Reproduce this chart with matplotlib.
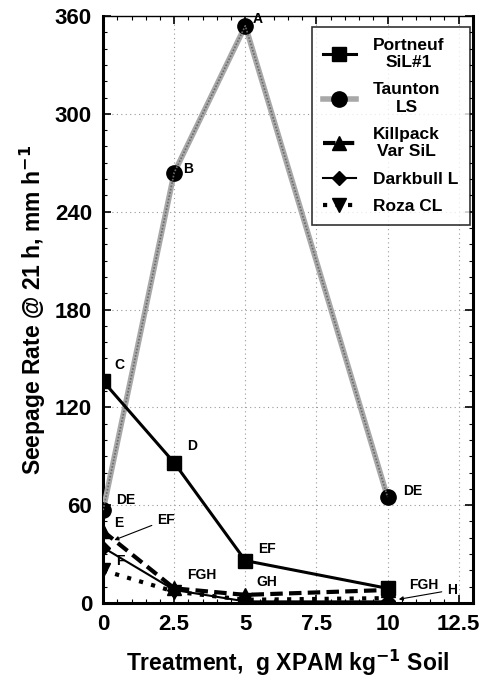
import matplotlib
matplotlib.use("Agg")
import matplotlib.pyplot as plt
from matplotlib.ticker import MultipleLocator

plt.rcParams['font.family'] = ['Liberation Sans', 'DejaVu Sans']
plt.rcParams['font.weight'] = 'bold'
plt.rcParams['mathtext.default'] = 'bf'

# Data
treatment = [0, 2.5, 5, 10]
portneuf = [136, 86, 26, 9]
taunton = [57, 264, 354, 65]
killpack = [44, 9, 5, 8]
darkbull = [34, 8, 1, 1]
roza = [20, 7, 2, 3]

# Significance letters: (text, x, y)
letters = [
    ('A', 5.25, 358), ('B', 2.8, 266), ('C', 0.4, 146), ('D', 2.95, 96),
    ('DE', 0.45, 63), ('E', 0.4, 49), ('F', 0.45, 26), ('FGH', 2.95, 17),
    ('EF', 5.45, 33), ('GH', 5.4, 13), ('DE', 10.55, 69), ('FGH', 10.75, 11),
]

fig = plt.figure(figsize=(4.82, 6.81), dpi=100)
ax = fig.add_axes([0.214, 0.1145, 0.767, 0.862])

ax.plot(treatment, portneuf, color='black', lw=2.2, marker='s', ms=10,
        label='Portneuf\nSiL#1', zorder=4)
ax.plot(treatment, taunton, color='#a8a8a8', lw=4, marker='o', ms=11,
        mfc='black', mec='black', label='Taunton\nLS', zorder=3)
ax.plot(treatment, taunton, color='#6a6a6a', lw=1.2, ls=(0, (1, 1)), zorder=3.1)
ax.plot(treatment, killpack, color='black', lw=3, ls=(0, (3, 1.5)), marker='^', ms=10,
        label='Killpack\nVar SiL', zorder=4)
ax.plot(treatment, darkbull, color='black', lw=1.5, marker='D', ms=7,
        label='Darkbull L', zorder=4)
ax.plot(treatment, roza, color='black', lw=3, ls=(0, (1, 2)), marker='v', ms=10,
        label='Roza CL', zorder=4)

for txt, x, y in letters:
    ax.text(x, y, txt, fontsize=10, fontweight='bold', ha='left', va='center', zorder=5)

ax.annotate('EF', xy=(0.3, 38), xytext=(1.9, 51), fontsize=10, fontweight='bold',
            va='center', arrowprops=dict(arrowstyle='-|>', color='black', lw=0.8,
                                         mutation_scale=6))
ax.annotate('H', xy=(10.3, 2), xytext=(12.1, 8), fontsize=10, fontweight='bold',
            va='center', arrowprops=dict(arrowstyle='-|>', color='black', lw=0.8,
                                         mutation_scale=6))

ax.set_xlim(0, 13)
ax.set_ylim(0, 360)
ax.set_xticks([0, 2.5, 5, 7.5, 10, 12.5])
ax.set_xticklabels(['0', '2.5', '5', '7.5', '10', '12.5'])
ax.set_yticks([0, 60, 120, 180, 240, 300, 360])
ax.xaxis.set_minor_locator(MultipleLocator(0.5))
ax.yaxis.set_minor_locator(MultipleLocator(10))
ax.tick_params(which='both', direction='in', top=True, right=True)
ax.tick_params(which='major', length=6, width=1.2, labelsize=16, pad=8)
ax.tick_params(which='minor', length=3, width=0.8)
for lab in ax.get_xticklabels() + ax.get_yticklabels():
    lab.set_fontweight('bold')

ax.grid(True, which='major', color='#999999', ls=(0, (1, 3)), lw=0.8)

for side in ['left', 'bottom', 'right']:
    ax.spines[side].set_linewidth(2.2)
ax.spines['top'].set_linewidth(1)

ax.set_xlabel('Treatment,  g XPAM kg$^{-1}$ Soil', fontsize=16.5,
              fontweight='bold', labelpad=9)
ax.set_ylabel('Seepage Rate @ 21 h, mm h$^{-1}$', fontsize=16.5,
              fontweight='bold', labelpad=5)

leg = ax.legend(loc='upper right', bbox_to_anchor=(0.992, 0.982), fontsize=12.5,
                frameon=True, fancybox=False, edgecolor='black', handlelength=1.9,
                labelspacing=0.7, borderpad=0.65, borderaxespad=0, handletextpad=1.0)
leg.get_frame().set_linewidth(1.2)
for t in leg.get_texts():
    t.set_fontweight('bold')
    t.set_multialignment('center')

fig.savefig('out.png', dpi=100)
